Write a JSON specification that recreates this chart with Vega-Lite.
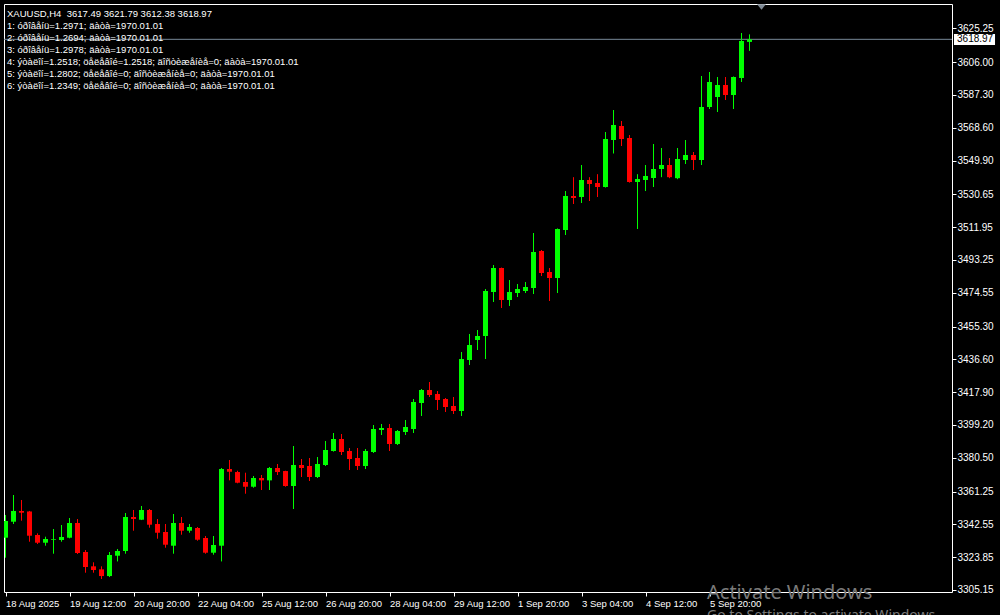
{
  "$schema": "https://vega.github.io/schema/vega-lite/v6.json",
  "width": 948,
  "height": 588,
  "autosize": {"type": "none"},
  "padding": {"left": 4, "top": 4, "right": 48, "bottom": 23},
  "background": "#000000",
  "title": {
    "text": [
      "XAUUSD,H4 \u00a03617.49 3621.79 3612.38 3618.97",
      "1: óðîâåíü=1.2971; äàòà=1970.01.01",
      "2: óðîâåíü=1.2694; äàòà=1970.01.01",
      "3: óðîâåíü=1.2978; äàòà=1970.01.01",
      "4: ýòàëîí=1.2518; öåëåâîé=1.2518; äîñòèæåíèå=0; äàòà=1970.01.01",
      "5: ýòàëîí=1.2802; öåëåâîé=0; äîñòèæåíèå=0; äàòà=1970.01.01",
      "6: ýòàëîí=1.2349; öåëåâîé=0; äîñòèæåíèå=0; äàòà=1970.01.01"
    ],
    "anchor": "start",
    "frame": "group",
    "offset": -86,
    "dx": 3,
    "font": "Liberation Sans",
    "fontSize": 9.5,
    "fontWeight": "normal",
    "color": "#ffffff",
    "lineHeight": 12
  },
  "datasets": {
    "candles": [
      {"i": 0, "o": 3334.96, "h": 3347.89, "l": 3323.55, "c": 3344.47},
      {"i": 1, "o": 3344.07, "h": 3359.28, "l": 3342.76, "c": 3350.17},
      {"i": 2, "o": 3350.17, "h": 3356.44, "l": 3344.64, "c": 3349.2},
      {"i": 3, "o": 3349.9, "h": 3350.2, "l": 3332.67, "c": 3336.09},
      {"i": 4, "o": 3336.49, "h": 3337.44, "l": 3331.36, "c": 3332.1},
      {"i": 5, "o": 3332.1, "h": 3335.52, "l": 3330.39, "c": 3334.21},
      {"i": 6, "o": 3333.81, "h": 3339.91, "l": 3325.83, "c": 3334.21},
      {"i": 7, "o": 3333.64, "h": 3342.19, "l": 3332.67, "c": 3335.35},
      {"i": 8, "o": 3334.95, "h": 3346.18, "l": 3334.6, "c": 3343.33},
      {"i": 9, "o": 3343.33, "h": 3345.61, "l": 3325.66, "c": 3326.23},
      {"i": 10, "o": 3326.8, "h": 3327.94, "l": 3315.0, "c": 3318.25},
      {"i": 11, "o": 3318.64, "h": 3320.92, "l": 3315.0, "c": 3316.53},
      {"i": 12, "o": 3316.93, "h": 3318.64, "l": 3311.41, "c": 3313.1},
      {"i": 13, "o": 3313.1, "h": 3326.8, "l": 3312.53, "c": 3325.09},
      {"i": 14, "o": 3324.69, "h": 3328.51, "l": 3321.43, "c": 3327.37},
      {"i": 15, "o": 3327.37, "h": 3349.03, "l": 3325.83, "c": 3346.75},
      {"i": 16, "o": 3346.75, "h": 3350.74, "l": 3338.94, "c": 3345.61},
      {"i": 17, "o": 3345.21, "h": 3353.02, "l": 3345.0, "c": 3350.74},
      {"i": 18, "o": 3350.74, "h": 3351.31, "l": 3340.65, "c": 3342.36},
      {"i": 19, "o": 3342.76, "h": 3345.61, "l": 3334.38, "c": 3337.78},
      {"i": 20, "o": 3338.2, "h": 3342.76, "l": 3329.25, "c": 3330.96},
      {"i": 21, "o": 3330.39, "h": 3348.46, "l": 3325.83, "c": 3343.33},
      {"i": 22, "o": 3343.33, "h": 3346.75, "l": 3336.66, "c": 3338.94},
      {"i": 23, "o": 3338.94, "h": 3342.76, "l": 3337.78, "c": 3341.05},
      {"i": 24, "o": 3340.48, "h": 3341.05, "l": 3333.24, "c": 3333.81},
      {"i": 25, "o": 3334.78, "h": 3335.92, "l": 3325.83, "c": 3326.4},
      {"i": 26, "o": 3326.4, "h": 3335.92, "l": 3325.26, "c": 3330.79},
      {"i": 27, "o": 3330.39, "h": 3374.67, "l": 3321.43, "c": 3374.1},
      {"i": 28, "o": 3374.1, "h": 3379.23, "l": 3367.63, "c": 3372.54},
      {"i": 29, "o": 3372.37, "h": 3373.1, "l": 3365.95, "c": 3366.29},
      {"i": 30, "o": 3366.69, "h": 3371.99, "l": 3360.02, "c": 3364.01},
      {"i": 31, "o": 3364.01, "h": 3370.11, "l": 3363.44, "c": 3368.97},
      {"i": 32, "o": 3368.97, "h": 3370.68, "l": 3362.13, "c": 3367.63},
      {"i": 33, "o": 3367.63, "h": 3375.24, "l": 3362.13, "c": 3374.67},
      {"i": 34, "o": 3374.67, "h": 3376.95, "l": 3370.68, "c": 3372.37},
      {"i": 35, "o": 3372.94, "h": 3373.1, "l": 3364.01, "c": 3364.41},
      {"i": 36, "o": 3364.41, "h": 3387.21, "l": 3351.31, "c": 3376.38},
      {"i": 37, "o": 3376.38, "h": 3379.8, "l": 3369.54, "c": 3374.67},
      {"i": 38, "o": 3375.81, "h": 3380.37, "l": 3367.26, "c": 3369.54},
      {"i": 39, "o": 3369.54, "h": 3380.94, "l": 3368.97, "c": 3376.95},
      {"i": 40, "o": 3376.38, "h": 3390.06, "l": 3375.81, "c": 3384.93},
      {"i": 41, "o": 3384.36, "h": 3394.62, "l": 3384.0, "c": 3391.2},
      {"i": 42, "o": 3391.2, "h": 3394.05, "l": 3382.08, "c": 3383.79},
      {"i": 43, "o": 3384.36, "h": 3386.07, "l": 3373.53, "c": 3379.8},
      {"i": 44, "o": 3380.37, "h": 3386.07, "l": 3373.53, "c": 3375.81},
      {"i": 45, "o": 3375.81, "h": 3385.5, "l": 3374.1, "c": 3384.36},
      {"i": 46, "o": 3383.79, "h": 3399.18, "l": 3383.22, "c": 3396.9},
      {"i": 47, "o": 3396.33, "h": 3399.75, "l": 3393.48, "c": 3397.47},
      {"i": 48, "o": 3397.47, "h": 3399.75, "l": 3384.36, "c": 3388.35},
      {"i": 49, "o": 3388.35, "h": 3396.33, "l": 3387.78, "c": 3395.76},
      {"i": 50, "o": 3395.19, "h": 3402.03, "l": 3393.48, "c": 3398.04},
      {"i": 51, "o": 3396.9, "h": 3414.0, "l": 3394.62, "c": 3412.29},
      {"i": 52, "o": 3411.72, "h": 3419.69, "l": 3404.31, "c": 3419.12},
      {"i": 53, "o": 3419.12, "h": 3423.68, "l": 3415.13, "c": 3416.27},
      {"i": 54, "o": 3416.84, "h": 3418.55, "l": 3407.73, "c": 3413.43},
      {"i": 55, "o": 3414.0, "h": 3414.57, "l": 3406.59, "c": 3409.44},
      {"i": 56, "o": 3410.01, "h": 3415.13, "l": 3405.45, "c": 3407.16},
      {"i": 57, "o": 3407.16, "h": 3440.78, "l": 3404.31, "c": 3436.79},
      {"i": 58, "o": 3436.22, "h": 3451.04, "l": 3433.37, "c": 3444.77},
      {"i": 59, "o": 3447.62, "h": 3453.32, "l": 3441.92, "c": 3449.9},
      {"i": 60, "o": 3449.9, "h": 3476.67, "l": 3436.79, "c": 3475.53},
      {"i": 61, "o": 3474.96, "h": 3490.35, "l": 3469.28, "c": 3488.64},
      {"i": 62, "o": 3488.64, "h": 3488.9, "l": 3465.86, "c": 3470.42},
      {"i": 63, "o": 3470.42, "h": 3481.8, "l": 3467.0, "c": 3474.96},
      {"i": 64, "o": 3474.39, "h": 3479.52, "l": 3472.11, "c": 3476.67},
      {"i": 65, "o": 3475.53, "h": 3480.66, "l": 3474.39, "c": 3477.81},
      {"i": 66, "o": 3477.24, "h": 3508.59, "l": 3473.82, "c": 3497.76},
      {"i": 67, "o": 3498.33, "h": 3498.9, "l": 3484.08, "c": 3485.79},
      {"i": 68, "o": 3486.36, "h": 3488.64, "l": 3469.85, "c": 3482.94},
      {"i": 69, "o": 3482.94, "h": 3511.2, "l": 3474.39, "c": 3510.87},
      {"i": 70, "o": 3510.3, "h": 3532.52, "l": 3507.45, "c": 3529.67},
      {"i": 71, "o": 3529.67, "h": 3540.41, "l": 3525.12, "c": 3528.53},
      {"i": 72, "o": 3529.1, "h": 3547.34, "l": 3525.69, "c": 3538.79},
      {"i": 73, "o": 3538.79, "h": 3540.41, "l": 3526.83, "c": 3536.51},
      {"i": 74, "o": 3537.08, "h": 3542.12, "l": 3529.1, "c": 3534.8},
      {"i": 75, "o": 3534.8, "h": 3566.15, "l": 3534.5, "c": 3562.16},
      {"i": 76, "o": 3561.59, "h": 3578.69, "l": 3553.9, "c": 3570.14},
      {"i": 77, "o": 3569.57, "h": 3572.42, "l": 3558.17, "c": 3562.16},
      {"i": 78, "o": 3562.73, "h": 3564.44, "l": 3537.3, "c": 3537.65},
      {"i": 79, "o": 3537.65, "h": 3542.12, "l": 3510.87, "c": 3539.36},
      {"i": 80, "o": 3538.79, "h": 3547.34, "l": 3532.52, "c": 3541.07},
      {"i": 81, "o": 3539.93, "h": 3559.31, "l": 3534.8, "c": 3545.06},
      {"i": 82, "o": 3545.06, "h": 3557.03, "l": 3540.41, "c": 3547.34},
      {"i": 83, "o": 3547.34, "h": 3551.33, "l": 3539.84, "c": 3540.41},
      {"i": 84, "o": 3539.84, "h": 3557.03, "l": 3539.27, "c": 3550.76},
      {"i": 85, "o": 3550.19, "h": 3561.59, "l": 3547.91, "c": 3553.04},
      {"i": 86, "o": 3553.04, "h": 3554.75, "l": 3544.49, "c": 3550.19},
      {"i": 87, "o": 3550.19, "h": 3598.06, "l": 3547.34, "c": 3580.4},
      {"i": 88, "o": 3580.4, "h": 3600.35, "l": 3579.26, "c": 3594.65},
      {"i": 89, "o": 3586.1, "h": 3597.49, "l": 3577.54, "c": 3592.94},
      {"i": 90, "o": 3592.94, "h": 3597.49, "l": 3584.39, "c": 3587.24},
      {"i": 91, "o": 3587.24, "h": 3597.8, "l": 3579.26, "c": 3597.49},
      {"i": 92, "o": 3596.92, "h": 3622.57, "l": 3594.65, "c": 3618.01},
      {"i": 93, "o": 3617.49, "h": 3621.79, "l": 3612.38, "c": 3618.97}
    ]
  },
  "layer": [
    {
      "data": {"values": [{}]},
      "mark": {"type": "rule", "color": "#778899", "strokeWidth": 1},
      "encoding": {
        "y": {"datum": 3618.97, "type": "quantitative", "scale": {"domain": [3304.01, 3639.1], "nice": false, "zero": false, "padding": 0}}
      }
    },
    {
      "data": {"name": "candles"},
      "mark": {"type": "rule", "strokeWidth": 1, "clip": true},
      "encoding": {
        "x": {
          "field": "i", "type": "quantitative",
          "scale": {"domain": [-0.1875, 118.3125], "nice": false, "zero": false, "padding": 0},
          "axis": {
            "values": [0, 8, 16, 24, 32, 40, 48, 56, 64, 72, 80, 88],
            "tickCount": 40,
            "labelExpr": "['18 Aug 2025','19 Aug 12:00','20 Aug 20:00','22 Aug 04:00','25 Aug 12:00','26 Aug 20:00','28 Aug 04:00','29 Aug 12:00','1 Sep 20:00','3 Sep 04:00','4 Sep 12:00','5 Sep 20:00'][round(datum.value / 8)]",
            "labelAlign": "left",
            "labelBaseline": "top",
            "labelPadding": 2,
            "labelFontSize": 9.5,
            "labelOverlap": false,
            "title": null
          }
        },
        "y": {
          "field": "l", "type": "quantitative",
          "scale": {"domain": [3304.01, 3639.1], "nice": false, "zero": false, "padding": 0},
          "axis": {
            "orient": "right",
            "values": [3305.15, 3323.85, 3342.55, 3361.25, 3380.5, 3399.2, 3417.9, 3436.6, 3455.3, 3474.55, 3493.25, 3511.95, 3530.65, 3549.9, 3568.6, 3587.3, 3606.0, 3625.25],
            "tickCount": 40,
            "format": ".2f",
            "labelAlign": "left",
            "labelBaseline": "middle",
            "labelPadding": 1,
            "labelOverlap": false,
            "title": null
          }
        },
        "y2": {"field": "h"},
        "color": {"condition": {"test": "datum.c >= datum.o", "value": "#00ff00"}, "value": "#ff0000"}
      }
    },
    {
      "data": {"name": "candles"},
      "mark": {"type": "bar", "size": 5, "clip": true, "strokeWidth": 0},
      "encoding": {
        "x": {"field": "i", "type": "quantitative", "scale": {"domain": [-0.1875, 118.3125], "nice": false, "zero": false, "padding": 0}},
        "y": {"field": "o", "type": "quantitative", "scale": {"domain": [3304.01, 3639.1], "nice": false, "zero": false, "padding": 0}},
        "y2": {"field": "c"},
        "color": {"condition": {"test": "datum.c >= datum.o", "value": "#00ff00"}, "value": "#ff0000"}
      }
    },
    {
      "data": {"values": [{}]},
      "mark": {"type": "rect", "color": "#ffffff", "clip": false},
      "encoding": {
        "x": {"datum": 118.56, "type": "quantitative", "scale": {"domain": [-0.1875, 118.3125], "nice": false, "zero": false, "padding": 0}},
        "x2": {"datum": 123.69},
        "y": {"datum": 3622.0, "type": "quantitative"},
        "y2": {"datum": 3615.7}
      }
    },
    {
      "data": {"values": [{}]},
      "mark": {"type": "text", "text": "3618.97", "align": "left", "baseline": "middle", "font": "Liberation Sans", "fontSize": 10, "color": "#000000", "clip": false},
      "encoding": {
        "x": {"datum": 118.94, "type": "quantitative", "scale": {"domain": [-0.1875, 118.3125], "nice": false, "zero": false, "padding": 0}},
        "y": {"datum": 3618.97, "type": "quantitative"}
      }
    },
    {
      "data": {"values": [{}]},
      "mark": {"type": "point", "shape": "M-1,-0.6L1,-0.6L0,0.6Z", "filled": true, "size": 81, "color": "#7f8a95", "opacity": 1, "clip": false},
      "encoding": {
        "x": {"datum": 94.5, "type": "quantitative", "scale": {"domain": [-0.1875, 118.3125], "nice": false, "zero": false, "padding": 0}},
        "y": {"datum": 3637.39, "type": "quantitative"}
      }
    },
    {
      "data": {"values": [{}]},
      "mark": {"type": "text", "text": "Activate Windows", "align": "left", "baseline": "alphabetic", "font": "Noto Sans", "fontSize": 20, "color": "#7a7a7a", "clip": false},
      "encoding": {
        "x": {"datum": 87.69, "type": "quantitative", "scale": {"domain": [-0.1875, 118.3125], "nice": false, "zero": false, "padding": 0}},
        "y": {"datum": 3300.02, "type": "quantitative"}
      }
    },
    {
      "data": {"values": [{}]},
      "mark": {"type": "text", "text": "Go to Settings to activate Windows.", "align": "left", "baseline": "alphabetic", "font": "Noto Sans", "fontSize": 14, "color": "#7a7a7a", "clip": false},
      "encoding": {
        "x": {"datum": 87.69, "type": "quantitative", "scale": {"domain": [-0.1875, 118.3125], "nice": false, "zero": false, "padding": 0}},
        "y": {"datum": 3287.9, "type": "quantitative"}
      }
    }
  ],
  "config": {
    "view": {"stroke": "#ffffff", "strokeWidth": 1},
    "axis": {
      "domain": false,
      "grid": false,
      "ticks": true,
      "tickColor": "#ffffff",
      "tickSize": 4,
      "tickWidth": 1,
      "labelColor": "#ffffff",
      "labelFont": "Liberation Sans",
      "labelFontSize": 10,
      "labelOverlap": false,
      "labelFlush": false,
      "labelBound": false
    }
  }
}
